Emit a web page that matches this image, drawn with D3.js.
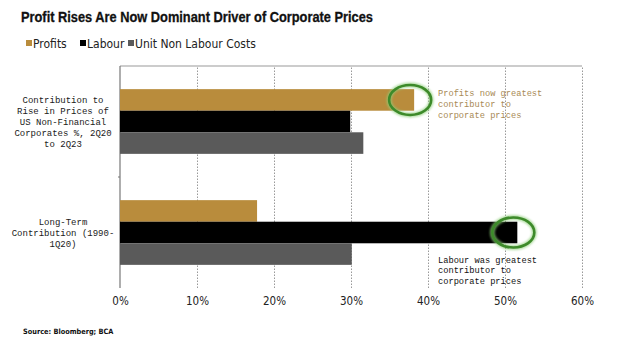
<!DOCTYPE html>
<html><head><meta charset="utf-8">
<script src="https://cdn.jsdelivr.net/npm/d3@7"></script>
<style>
body{margin:0;background:#fff;}
svg{display:block;}
</style></head>
<body><svg id="c" width="620" height="355"></svg>
<script>
const title = "Profit Rises Are Now Dominant Driver of Corporate Prices";
const source = "Source: Bloomberg; BCA";
const categories = [
  ["Contribution to","Rise in Prices of","US Non-Financial","Corporates %, 2Q20","to 2Q23"],
  ["Long-Term","Contribution (1990-","1Q20)"]
];
const seriesNames = ["Profits","Labour","Unit Non Labour Costs"];
const seriesColors = ["#b98c3c","#000000","#5a5a5a"];
const profits = [38.2, 17.8];
const labour = [29.9, 51.6];
const unitNonLabour = [31.6, 30.1];
const tickValues = [0,10,20,30,40,50,60];
const notes = [
  {lines:["Profits now greatest","contributor to","corporate prices"], color:"#a88a55", cat:0, series:0},
  {lines:["Labour was greatest","contributor to","corporate prices"], color:"#111", cat:1, series:1}
];

const svg = d3.select("#c");
const x = d3.scaleLinear().domain([0,60]).range([120,582]);
const y0 = d3.scaleBand().domain(d3.range(categories.length)).range([66,288]).paddingInner(0.417).paddingOuter(0.2085);
const y1 = d3.scaleBand().domain(d3.range(seriesNames.length)).range([0,y0.bandwidth()]);
const values = [profits, labour, unitNonLabour];

// title
const t = svg.append("text").attr("x",21).attr("y",22)
  .attr("font-family","Liberation Sans, Arial, sans-serif").attr("font-weight","bold")
  .attr("font-size",14.5).attr("fill","#111").attr("stroke","#111").attr("stroke-width",0.3).text(title);
t.attr("textLength",352).attr("lengthAdjust","spacingAndGlyphs");

// legend
const leg = svg.append("g").attr("font-family","Liberation Sans Narrow, DejaVu Sans Condensed, sans-serif").attr("font-size",12);
const legX = [26,80,128];
seriesNames.forEach((n,i)=>{
  leg.append("rect").attr("x",legX[i]).attr("y",40).attr("width",6).attr("height",6).attr("fill",seriesColors[i]);
  leg.append("text").attr("x",legX[i]+7).attr("y",47.5).attr("fill","#222").text(n);
});

// gridlines
const grid = svg.append("g").attr("transform","translate(0,288)")
  .call(d3.axisBottom(x).tickValues(tickValues.slice(1)).tickSize(-222).tickFormat(""));
grid.select(".domain").remove();
grid.selectAll("line").attr("stroke","#999").attr("stroke-dasharray","1.5,1.5");

// frame top + left axis
svg.append("line").attr("x1",x(0)).attr("x2",x(60)).attr("y1",66).attr("y2",66).attr("stroke","#999").attr("stroke-width",1.2);
svg.append("line").attr("x1",x(0)).attr("x2",x(0)).attr("y1",66).attr("y2",288).attr("stroke","#777").attr("stroke-width",1.2);
svg.append("line").attr("x1",x(0)-2).attr("x2",x(0)).attr("y1",177).attr("y2",177).attr("stroke","#777");

// bars
categories.forEach((c,ci)=>{
  const g = svg.append("g").attr("transform",`translate(0,${y0(ci)})`);
  values.forEach((vals,si)=>{
    g.append("rect").attr("x",x(0)).attr("y",y1(si)).attr("width",x(vals[ci])-x(0))
      .attr("height",y1.bandwidth()).attr("fill",seriesColors[si]);
  });
});

// tick labels
const ax = svg.append("g").attr("transform","translate(0,288)")
  .call(d3.axisBottom(x).tickValues(tickValues).tickSize(0).tickPadding(9).tickFormat(d=>d+"%"));
ax.select(".domain").remove();
ax.selectAll("text").attr("font-family","Liberation Sans Narrow, DejaVu Sans Condensed, sans-serif").attr("font-size",11.5).attr("fill","#222");

// category labels
categories.forEach((lines,ci)=>{
  const cy = y0(ci)+y0.bandwidth()/2;
  const tx = svg.append("text").attr("font-family","Liberation Mono, DejaVu Sans Mono, monospace")
    .attr("font-size",9).attr("fill","#1a1a1a").attr("text-anchor","middle");
  lines.forEach((l,li)=>{
    tx.append("tspan").attr("x",63).attr("y",cy+(li-(lines.length-1)/2)*11+3).text(l);
  });
});

// annotations
const defs = svg.append("defs");
defs.append("filter").attr("id","glow").attr("x","-30%").attr("y","-30%").attr("width","160%").attr("height","160%")
  .append("feGaussianBlur").attr("stdDeviation",1.2);
notes.forEach(n=>{
  const v = values[n.series][n.cat];
  const cx = x(v)-4;
  const cy = y0(n.cat)+y1(n.series)+y1.bandwidth()/2;
  svg.append("ellipse").attr("cx",cx).attr("cy",cy).attr("rx",21).attr("ry",15)
    .attr("fill","none").attr("stroke","#8fcf7a").attr("stroke-width",5).attr("filter","url(#glow)").attr("opacity",0.7);
  svg.append("ellipse").attr("cx",cx).attr("cy",cy).attr("rx",21).attr("ry",15)
    .attr("fill","none").attr("stroke","#3d8a2a").attr("stroke-width",2.6);
});
const noteY = [93, 259.5];
notes.forEach((n,ni)=>{
  const tx = svg.append("text").attr("font-family","Liberation Mono, DejaVu Sans Mono, monospace")
    .attr("font-size",8.7).attr("fill",n.color);
  n.lines.forEach((l,li)=>{
    tx.append("tspan").attr("x",x(41.3)).attr("y",noteY[ni]+li*10.8+3).text(l);
  });
});

// source
svg.append("text").attr("x",23).attr("y",334).attr("font-family","Liberation Sans Narrow, DejaVu Sans Condensed, sans-serif")
  .attr("font-weight","bold").attr("font-size",7.3).attr("fill","#111").text(source);
</script></body></html>
